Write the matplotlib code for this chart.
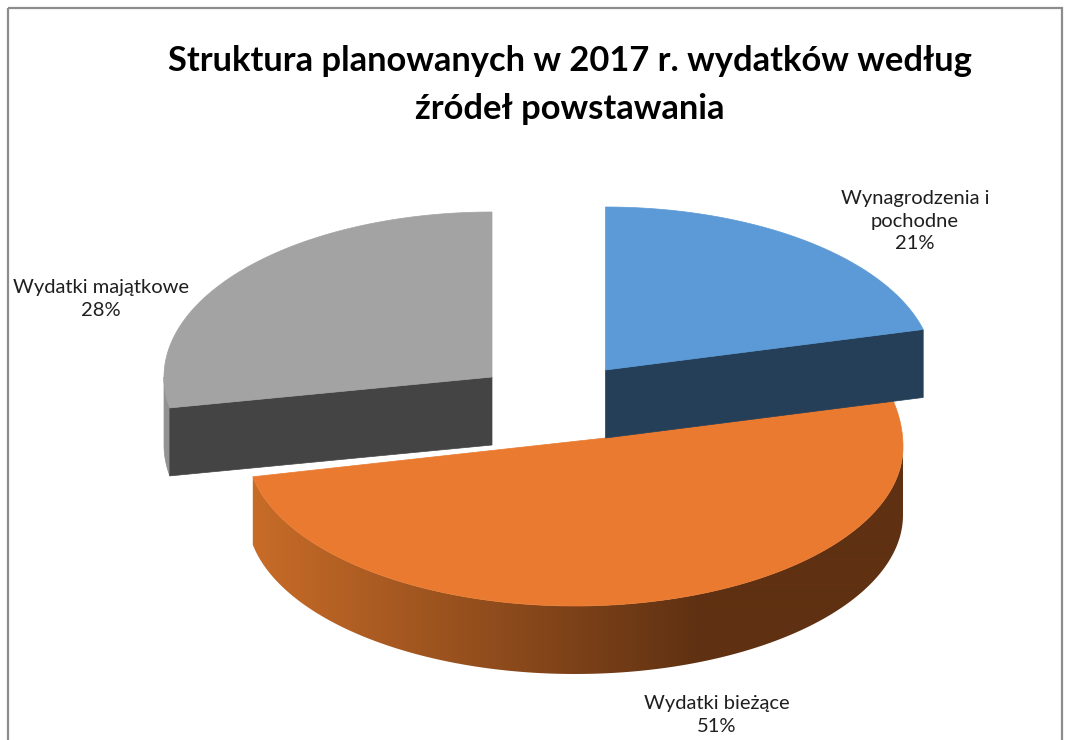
import numpy as np
import matplotlib
matplotlib.use("Agg")
import matplotlib.pyplot as plt
from matplotlib.patches import Polygon, Rectangle
from matplotlib.colors import to_rgb

categories = ["Wynagrodzenia i\npochodne", "Wydatki bieżące", "Wydatki majątkowe"]
shares = [21, 51, 28]
title = "Struktura planowanych w 2017 r. wydatków według\nźródeł powstawania"

top_colors = ["#5B9AD6", "#E97A30", "#A3A3A3"]
side_colors = ["#243F57", "#5F3112", "#444444"]
wall_light = ["#243F57", "#C86C28", "#929292"]

W, H = 1069, 740
RX, DEPTH = 328, 68
# layout per slice: ellipse centre, slice tip, vertical radius above / below the centre line
centres = [(605.5, 370), (575, 447), (492, 377)]
tips = [(605.5, 370), (605.5, 438), (492, 377)]
ry_up = [163, 190, 165]
ry_down = [163, 159, 165]

plt.rcParams["font.family"] = ["Lato", "DejaVu Sans"]
fig = plt.figure(figsize=(W / 100, H / 100), dpi=100)
ax = fig.add_axes([0, 0, 1, 1])


def arc(i, theta):
    c = centres[i]
    cos = np.cos(theta)
    ry = np.where(cos > 0, ry_up[i], ry_down[i])
    return c[0] + RX * np.sin(theta), c[1] - ry * cos


fractions = np.array(shares) / sum(shares)
edges = np.r_[0, np.cumsum(fractions)] * 2 * np.pi
zorders = [5, 3, 4]

# blue slice: flat cut face towards the viewer
ex, ey = arc(0, edges[1])
tip = tips[0]
ax.add_patch(Polygon([tip, (ex, ey), (ex, ey + DEPTH), (tip[0], tip[1] + DEPTH)],
                     fc=side_colors[0], ec=side_colors[0], lw=0.5, zorder=zorders[0]))

# orange slice: curved outer wall with a horizontal gradient
th = np.linspace(edges[1], edges[2], 400)
x, y = arc(1, th)
keep = th >= np.pi / 2
wall = np.r_[np.c_[x[keep], y[keep]], np.c_[x[keep], y[keep] + DEPTH][::-1]]
wall_patch = Polygon(wall, fc="none", ec="none", zorder=zorders[1])
ax.add_patch(wall_patch)
gx = np.arange(240, 920)
t = np.clip((gx - 252) / (700 - 252), 0, 1)[None, :, None]
grad = (1 - t) * np.array(to_rgb(wall_light[1])) + t * np.array(to_rgb(side_colors[1]))
im = ax.imshow(grad, extent=(240, 920, 700, 400), aspect="auto", zorder=zorders[1],
               interpolation="bilinear")
im.set_clip_path(wall_patch)

# gray slice: cut face plus the thin visible piece of its outer wall on the left
ex, ey = arc(2, edges[2])
tip = tips[2]
th = np.linspace(edges[2], 1.5 * np.pi, 40)
x2, y2 = arc(2, th)
ax.add_patch(Polygon(np.r_[np.c_[x2, y2], np.c_[x2, y2 + DEPTH][::-1]],
                     fc=wall_light[2], ec=wall_light[2], lw=0.5, zorder=zorders[2]))
ax.add_patch(Polygon([tip, (ex, ey), (ex, ey + DEPTH), (tip[0], tip[1] + DEPTH)],
                     fc=side_colors[2], ec=side_colors[2], lw=0.5, zorder=zorders[2] + 0.2))

# top faces
for i in range(3):
    th = np.linspace(edges[i], edges[i + 1], 400)
    x, y = arc(i, th)
    ax.add_patch(Polygon(np.r_[[tips[i]], np.c_[x, y]], fc=top_colors[i], ec=top_colors[i],
                         lw=0.5, zorder=zorders[i] + 0.5))

ax.set_xlim(0, W)
ax.set_ylim(H, 0)
ax.axis("off")
ax.add_patch(Rectangle((7.5, 8), 1054, 760, fill=False, ec="#8C8C8C", lw=1.6, zorder=0))

ax.text(570, 85, title, ha="center", va="center", fontsize=24.8, fontweight="bold",
        color="black", linespacing=1.6)
label_pos = [(915, 221), (717, 715), (101, 299)]
for (lx, ly), name, s in zip(label_pos, categories, shares):
    ax.text(lx, ly, f"{name}\n{s}%", ha="center", va="center", fontsize=14.5,
            color="#1F1F1F", linespacing=1.42)

fig.savefig("out.png", dpi=100, facecolor="white")
